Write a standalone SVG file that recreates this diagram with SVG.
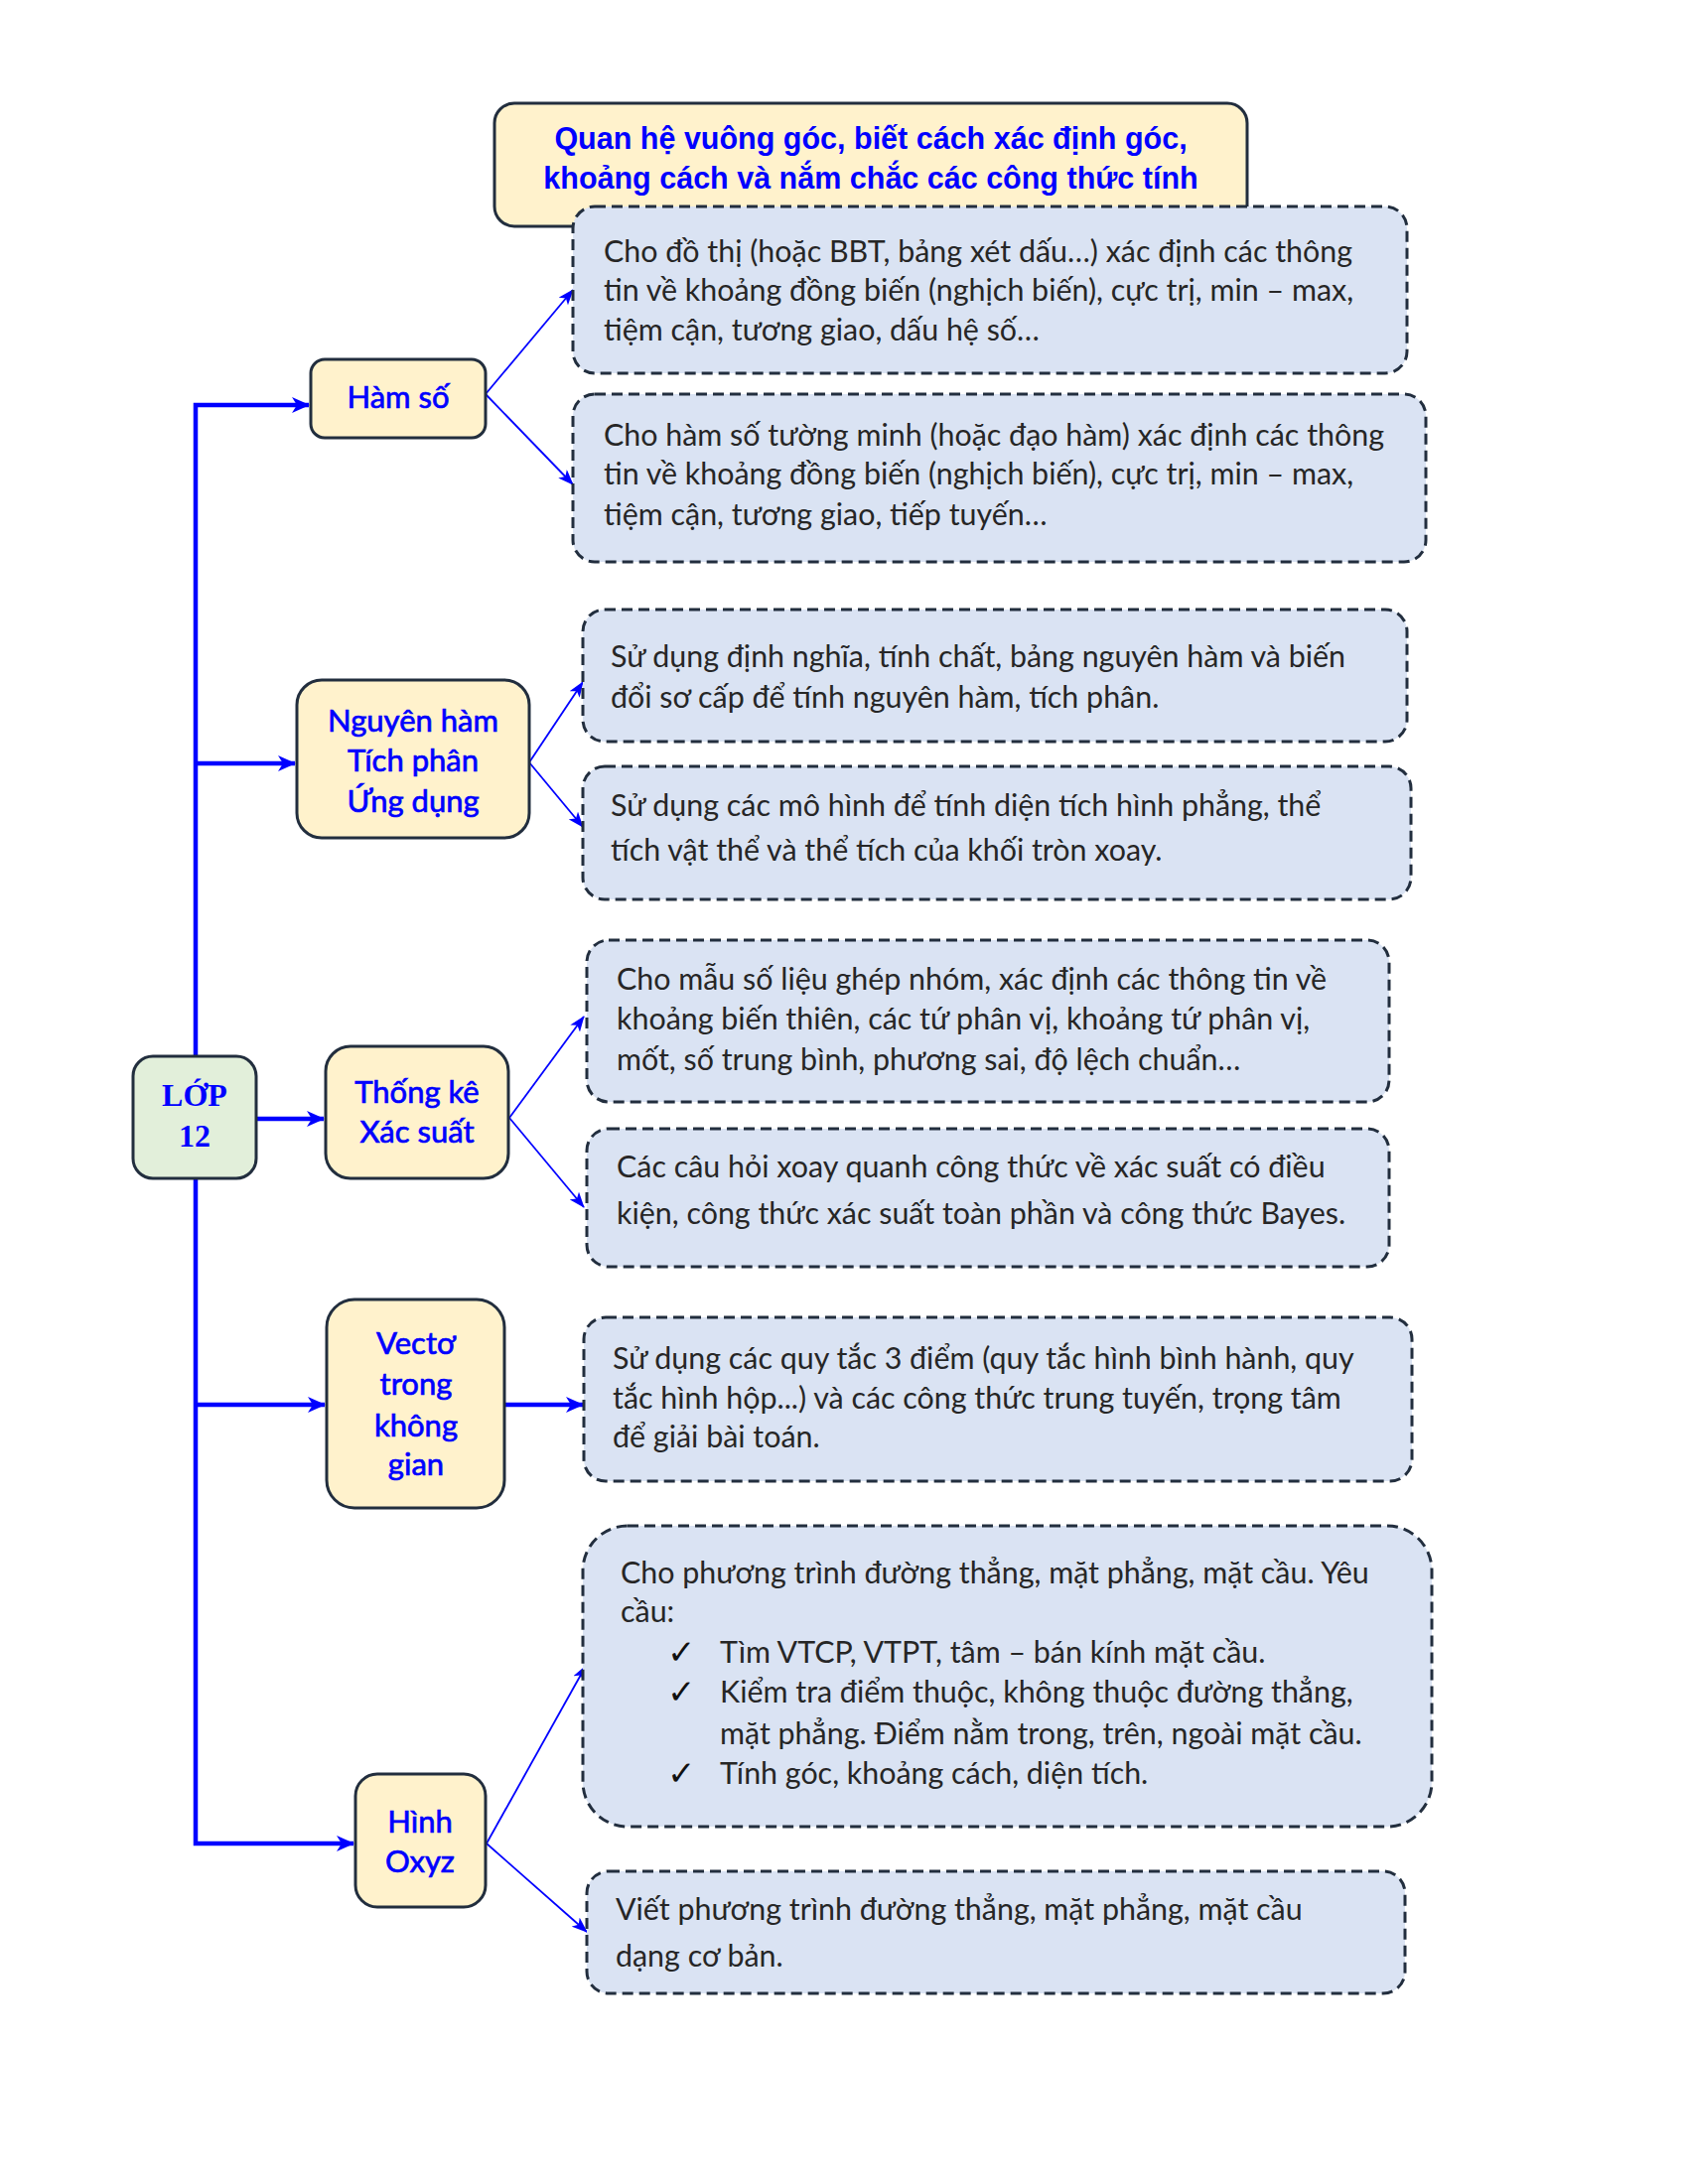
<svg xmlns="http://www.w3.org/2000/svg" width="1700" height="2200" viewBox="0 0 1700 2200">
<defs>
<style>
.node{fill:#FFF2CC;stroke:#222E3E;stroke-width:3}
.root{fill:#E2EFDA;stroke:#222E3E;stroke-width:3}
.leaf{fill:#DAE3F3;stroke:#222E3E;stroke-width:3;stroke-dasharray:11 6}
.title{fill:#FFF2CC;stroke:#222E3E;stroke-width:3}
.lbl{font-family:Lato,"Noto Sans",sans-serif;font-size:31px;fill:#0000FF;stroke:#0000FF;stroke-width:0.7;text-anchor:middle}
.rootlbl{font-family:"Liberation Serif",serif;font-size:32px;font-weight:bold;fill:#0000FF;text-anchor:middle}
.tt{font-family:"Liberation Sans",Arial,sans-serif;font-size:30.5px;font-weight:bold;fill:#0000FF;text-anchor:middle}
.txt{font-family:Lato,"Noto Sans",sans-serif;font-size:30.4px;fill:#262626}
.chk{font-family:"DejaVu Sans",sans-serif;font-size:34px;font-weight:bold;fill:#111}
.thick{stroke:#0000FF;stroke-width:4.5;fill:none}
.thin{stroke:#0000FF;stroke-width:1.8;fill:none}
</style>
<marker id="ah" markerUnits="userSpaceOnUse" viewBox="0 0 16 12" refX="15" refY="6" markerWidth="16" markerHeight="12" orient="auto">
<path d="M0,0 L16,6 L0,12 L4,6 z" fill="#0000FF"/>
</marker>
<marker id="ahb" markerUnits="userSpaceOnUse" viewBox="0 0 18 16" refX="17" refY="8" markerWidth="18" markerHeight="16" orient="auto">
<path d="M0,0 L18,8 L0,16 L5,8 z" fill="#0000FF"/>
</marker>
</defs>
<rect width="1700" height="2200" fill="#FFFFFF"/>

<g id="title">
<rect class="title" x="498" y="104" width="758" height="124" rx="20"/>
<text class="tt" x="877" y="150">Quan hệ vuông góc, biết cách xác định góc,</text>
<text class="tt" x="877" y="190">khoảng cách và nắm chắc các công thức tính</text>
</g>

<g id="connectors">
<path class="thick" d="M197,1064 V408 H311" marker-end="url(#ahb)"/>
<path class="thick" d="M197,1187 V1857 H356" marker-end="url(#ahb)"/>
<path class="thick" d="M197,769 H297" marker-end="url(#ahb)"/>
<path class="thick" d="M197,1415 H327" marker-end="url(#ahb)"/>
<path class="thick" d="M258,1127 H326" marker-end="url(#ahb)"/>
<path class="thick" d="M508,1415 H587" marker-end="url(#ahb)"/>
<path class="thin" d="M489,397 L577,292" marker-end="url(#ah)"/>
<path class="thin" d="M489,397 L577,488" marker-end="url(#ah)"/>
<path class="thin" d="M533,768 L587,687" marker-end="url(#ah)"/>
<path class="thin" d="M533,768 L587,833" marker-end="url(#ah)"/>
<path class="thin" d="M513,1126 L588,1024" marker-end="url(#ah)"/>
<path class="thin" d="M513,1126 L588,1216" marker-end="url(#ah)"/>
<path class="thin" d="M490,1857 L590,1678" marker-end="url(#ah)"/>
<path class="thin" d="M490,1857 L591,1946" marker-end="url(#ah)"/>
</g>

<g id="lop12">
<rect class="root" x="134" y="1064" width="124" height="123" rx="20"/>
<text class="rootlbl" x="196" y="1114">LỚP</text>
<text class="rootlbl" x="196" y="1155">12</text>
</g>

<g id="hamso">
<rect class="node" x="313" y="362" width="176" height="79" rx="14"/>
<text class="lbl" x="401" y="411">Hàm số</text>
</g>

<g id="nguyenham">
<rect class="node" x="299" y="685" width="234" height="159" rx="25"/>
<text class="lbl" x="416" y="737">Nguyên hàm</text>
<text class="lbl" x="416" y="777">Tích phân</text>
<text class="lbl" x="416" y="818">Ứng dụng</text>
</g>

<g id="thongke">
<rect class="node" x="328" y="1054" width="184" height="133" rx="25"/>
<text class="lbl" x="420" y="1111">Thống kê</text>
<text class="lbl" x="420" y="1151">Xác suất</text>
</g>

<g id="vecto">
<rect class="node" x="329" y="1309" width="179" height="210" rx="28"/>
<text class="lbl" x="419" y="1364">Vectơ</text>
<text class="lbl" x="419" y="1405">trong</text>
<text class="lbl" x="419" y="1447">không</text>
<text class="lbl" x="419" y="1486">gian</text>
</g>

<g id="oxyz">
<rect class="node" x="358" y="1787" width="131" height="134" rx="22"/>
<text class="lbl" x="423" y="1846">Hình</text>
<text class="lbl" x="423" y="1886">Oxyz</text>
</g>

<g id="b1">
<rect class="leaf" x="577" y="208" width="840" height="168" rx="22"/>
<text class="txt" x="608" y="264">Cho đồ thị (hoặc BBT, bảng xét dấu…) xác định các thông</text>
<text class="txt" x="608" y="303">tin về khoảng đồng biến (nghịch biến), cực trị, min – max,</text>
<text class="txt" x="608" y="343">tiệm cận, tương giao, dấu hệ số…</text>
</g>

<g id="b2">
<rect class="leaf" x="577" y="397" width="859" height="169" rx="22"/>
<text class="txt" x="608" y="449">Cho hàm số tường minh (hoặc đạo hàm) xác định các thông</text>
<text class="txt" x="608" y="488">tin về khoảng đồng biến (nghịch biến), cực trị, min – max,</text>
<text class="txt" x="608" y="529">tiệm cận, tương giao, tiếp tuyến…</text>
</g>

<g id="b3">
<rect class="leaf" x="587" y="614" width="830" height="133" rx="22"/>
<text class="txt" x="615" y="672">Sử dụng định nghĩa, tính chất, bảng nguyên hàm và biến</text>
<text class="txt" x="615" y="713">đổi sơ cấp để tính nguyên hàm, tích phân.</text>
</g>

<g id="b4">
<rect class="leaf" x="587" y="772" width="834" height="134" rx="22"/>
<text class="txt" x="615" y="822">Sử dụng các mô hình để tính diện tích hình phẳng, thể</text>
<text class="txt" x="615" y="867">tích vật thể và thể tích của khối tròn xoay.</text>
</g>

<g id="b5">
<rect class="leaf" x="591" y="947" width="808" height="163" rx="22"/>
<text class="txt" x="621" y="997">Cho mẫu số liệu ghép nhóm, xác định các thông tin về</text>
<text class="txt" x="621" y="1037">khoảng biến thiên, các tứ phân vị, khoảng tứ phân vị,</text>
<text class="txt" x="621" y="1078">mốt, số trung bình, phương sai, độ lệch chuẩn…</text>
</g>

<g id="b6">
<rect class="leaf" x="591" y="1137" width="808" height="139" rx="22"/>
<text class="txt" x="621" y="1186">Các câu hỏi xoay quanh công thức về xác suất có điều</text>
<text class="txt" x="621" y="1233">kiện, công thức xác suất toàn phần và công thức Bayes.</text>
</g>

<g id="b7">
<rect class="leaf" x="588" y="1327" width="834" height="165" rx="22"/>
<text class="txt" x="617" y="1379">Sử dụng các quy tắc 3 điểm (quy tắc hình bình hành, quy</text>
<text class="txt" x="617" y="1419">tắc hình hộp...) và các công thức trung tuyến, trọng tâm</text>
<text class="txt" x="617" y="1458">để giải bài toán.</text>
</g>

<g id="b8">
<rect class="leaf" x="587" y="1537" width="855" height="303" rx="45"/>
<text class="txt" x="625" y="1595">Cho phương trình đường thẳng, mặt phẳng, mặt cầu. Yêu</text>
<text class="txt" x="625" y="1634">cầu:</text>
<text class="chk" x="672" y="1676">✓</text>
<text class="txt" x="725" y="1675">Tìm VTCP, VTPT, tâm – bán kính mặt cầu.</text>
<text class="chk" x="672" y="1716">✓</text>
<text class="txt" x="725" y="1715">Kiểm tra điểm thuộc, không thuộc đường thẳng,</text>
<text class="txt" x="725" y="1757">mặt phẳng. Điểm nằm trong, trên, ngoài mặt cầu.</text>
<text class="chk" x="672" y="1798">✓</text>
<text class="txt" x="725" y="1797">Tính góc, khoảng cách, diện tích.</text>
</g>

<g id="b9">
<rect class="leaf" x="591" y="1885" width="824" height="123" rx="22"/>
<text class="txt" x="620" y="1934">Viết phương trình đường thẳng, mặt phẳng, mặt cầu</text>
<text class="txt" x="620" y="1981">dạng cơ bản.</text>
</g>
</svg>
